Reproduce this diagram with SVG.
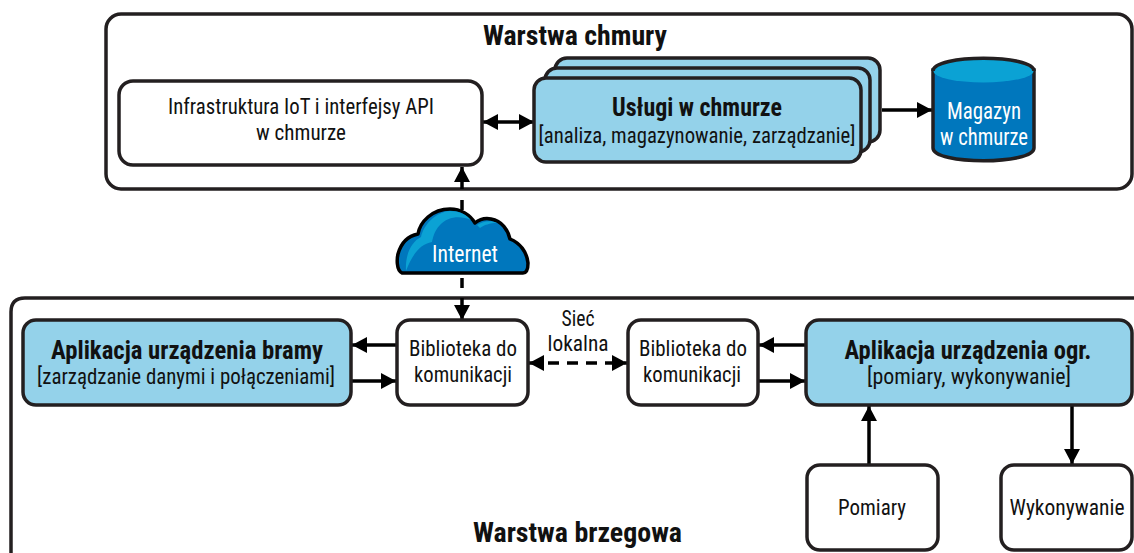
<svg xmlns="http://www.w3.org/2000/svg" width="1134" height="553" viewBox="0 0 1134 553">
<style>
text{font-family:Roboto,"Open Sans",sans-serif;font-stretch:75%;fill:#111;text-anchor:middle;font-size:22px}
.b{font-weight:700;font-size:25px}
.h{font-weight:700;font-size:28px}
.w{fill:#fff;font-size:23px}
.box{fill:#fff;stroke:#231f20;stroke-width:3.5}
.blue{fill:#94d2ea;stroke:#231f20;stroke-width:3.5}
.c{fill:none;stroke:#000;stroke-width:3.5}
</style>
<defs>
<marker id="a" markerUnits="userSpaceOnUse" markerWidth="16" markerHeight="16" refX="15" refY="8" orient="auto-start-reverse"><path d="M0,0L15,8L0,16Z" fill="#000"/></marker>
</defs>
<g id="warstwa-chmury">
<rect class="box" x="106" y="14" width="1026" height="175" rx="15"/>
<text class="h" x="575" y="45" textLength="184" lengthAdjust="spacingAndGlyphs">Warstwa chmury</text>
</g>
<g id="warstwa-brzegowa">
<path class="box" d="M11,553V312Q11,298 25,298H1134" fill="#fff"/>
<text class="h" x="577.500" y="542" textLength="209" lengthAdjust="spacingAndGlyphs">Warstwa brzegowa</text>
</g>
<g id="connectors">
<path class="c" marker-start="url(#a)" marker-end="url(#a)" d="M483,122H534"/>
<path class="c" marker-end="url(#a)" d="M882,110H932"/>
<path class="c" marker-end="url(#a)" d="M462,189V167"/>
<path class="c" d="M462,200V210"/>
<path class="c" d="M462,278V288"/>
<path class="c" marker-end="url(#a)" d="M462,298V320"/>
<path class="c" marker-end="url(#a)" d="M396,345H352"/>
<path class="c" marker-end="url(#a)" d="M352,381H396"/>
<path class="c" stroke-dasharray="11 8" marker-start="url(#a)" marker-end="url(#a)" d="M529,363H627"/>
<path class="c" marker-end="url(#a)" d="M805,345H759"/>
<path class="c" marker-end="url(#a)" d="M759,381H805"/>
<path class="c" marker-end="url(#a)" d="M869,464V406"/>
<path class="c" marker-end="url(#a)" d="M1072,406V464"/>
</g>
<g id="infrastruktura">
<rect class="box" x="119" y="81" width="363" height="84" rx="14"/>
<text x="301" y="114" textLength="266" lengthAdjust="spacingAndGlyphs">Infrastruktura IoT i interfejsy API</text>
<text x="301" y="140" textLength="90" lengthAdjust="spacingAndGlyphs">w chmurze</text>
</g>
<g id="uslugi">
<rect class="blue" x="555" y="58" width="325" height="84" rx="12"/>
<rect class="blue" x="545" y="68" width="325" height="84" rx="12"/>
<rect class="blue" x="534" y="78" width="327" height="84" rx="12"/>
<text class="b" x="697" y="116" textLength="170" lengthAdjust="spacingAndGlyphs">Usługi w chmurze</text>
<text x="697" y="143" textLength="317" lengthAdjust="spacingAndGlyphs">[analiza, magazynowanie, zarządzanie]</text>
</g>
<g id="magazyn">
<path d="M933,70V148C933,165 1034,165 1034,148V70Z" fill="#0077bd" stroke="#231f20" stroke-width="3.500"/>
<ellipse cx="983.500" cy="71" rx="50" ry="11.500" fill="#0ba2d4" stroke="none"/>
<path d="M933,71C933,54 1034,54 1034,71" fill="#0ba2d4" stroke="#231f20" stroke-width="3.500"/>
<text class="w" x="984" y="119" textLength="74" lengthAdjust="spacingAndGlyphs">Magazyn</text>
<text class="w" x="984" y="145" textLength="88" lengthAdjust="spacingAndGlyphs">w chmurze</text>
</g>
<g id="internet">
<path d="M402,273C396,270 397,258 398,254C401,243 408,236 418,234C420,222 432,209 450,209C461,209 470,215 475,223C480,219 486,218 491,219C502,221 508,230 510,239C520,243 527,252 528,263C528,268 527,273 523,273Z" fill="#0077bd" stroke="#000" stroke-width="3.500" stroke-linejoin="round"/>
<path d="M406,271C405,255 411,242 421,237C424,224 436,212 450,211C458,211 466,214 471,220C460,215 447,217 440,225C434,231 433,238 432,242C420,244 412,255 406,271Z" fill="#0ba2d4"/>
<path d="M477,225C483,221 491,220 497,223C490,223 484,225 480,228Z" fill="#0ba2d4"/>
<text class="w" x="465" y="262" textLength="66" lengthAdjust="spacingAndGlyphs">Internet</text>
</g>
<g id="aplikacja-bramy">
<rect class="blue" x="23" y="320" width="328" height="85" rx="13"/>
<text class="b" x="187" y="359" textLength="272" lengthAdjust="spacingAndGlyphs">Aplikacja urządzenia bramy</text>
<text x="186" y="384" textLength="298" lengthAdjust="spacingAndGlyphs">[zarządzanie danymi i połączeniami]</text>
</g>
<g id="biblioteka-1">
<rect class="box" x="397" y="320" width="131" height="85" rx="13"/>
<text x="463" y="356" textLength="108" lengthAdjust="spacingAndGlyphs">Biblioteka do</text>
<text x="463" y="382" textLength="98" lengthAdjust="spacingAndGlyphs">komunikacji</text>
</g>
<g id="siec-lokalna">
<text x="578" y="326" textLength="33" lengthAdjust="spacingAndGlyphs">Sieć</text>
<text x="578" y="351" textLength="61" lengthAdjust="spacingAndGlyphs">lokalna</text>
</g>
<g id="biblioteka-2">
<rect class="box" x="628" y="320" width="130" height="85" rx="13"/>
<text x="693" y="356" textLength="108" lengthAdjust="spacingAndGlyphs">Biblioteka do</text>
<text x="692" y="382" textLength="98" lengthAdjust="spacingAndGlyphs">komunikacji</text>
</g>
<g id="aplikacja-ogr">
<rect class="blue" x="806" y="320" width="326" height="85" rx="13"/>
<text class="b" x="968" y="359" textLength="247" lengthAdjust="spacingAndGlyphs">Aplikacja urządzenia ogr.</text>
<text x="969" y="384" textLength="204" lengthAdjust="spacingAndGlyphs">[pomiary, wykonywanie]</text>
</g>
<g id="pomiary">
<rect class="box" x="807" y="465" width="131" height="85" rx="13"/>
<text x="872" y="515" textLength="68" lengthAdjust="spacingAndGlyphs">Pomiary</text>
</g>
<g id="wykonywanie">
<rect class="box" x="1001" y="465" width="131" height="85" rx="13"/>
<text x="1067" y="515" textLength="115" lengthAdjust="spacingAndGlyphs">Wykonywanie</text>
</g>
</svg>
